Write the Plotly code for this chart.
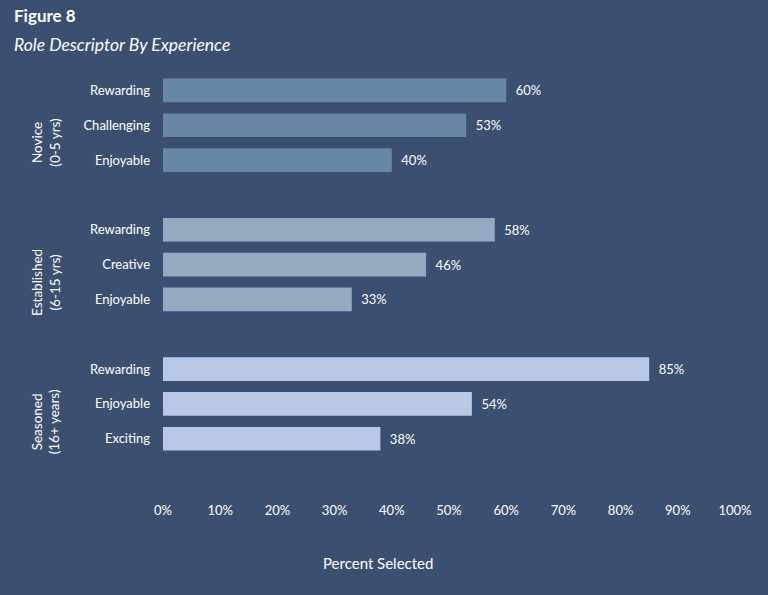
import plotly.graph_objects as go

groups = ["Novice<br>(0-5 yrs)", "Established<br>(6-15 yrs)", "Seasoned<br>(16+ years)"]
group_keys = ["novice", "established", "seasoned"]
descriptors = [
    ["Rewarding", "Challenging", "Enjoyable"],
    ["Rewarding", "Creative", "Enjoyable"],
    ["Rewarding", "Enjoyable", "Exciting"],
]
values = [
    [60, 53, 40],
    [58, 46, 33],
    [85, 54, 38],
]
colors = ["#6886a5", "#93abc1", "#b8c8e5"]
x_ticks = [0, 10, 20, 30, 40, 50, 60, 70, 80, 90, 100]

BG = "#3b5070"
FONT = "Lato"

fig = go.Figure()

cat_order = []
tickvals = []
ticktext = []
for g, key in enumerate(group_keys):
    keys = [f"{key}|{d}" for d in descriptors[g]]
    cat_order += keys + [f"{key}|gap"]
    tickvals += keys
    ticktext += descriptors[g]
    fig.add_trace(go.Bar(
        x=values[g], y=keys, orientation="h",
        marker=dict(color=colors[g], line=dict(width=0)),
        width=0.68,
        text=[f"\u2002{v}%" for v in values[g]],
        textposition="outside",
        textfont=dict(color="white", size=13, family=FONT),
        cliponaxis=False,
        showlegend=False, hoverinfo="skip",
    ))

# invisible trace to reserve the spacer slots
gap_keys = [c for c in cat_order if c.endswith("|gap")]
fig.add_trace(go.Bar(x=[0] * len(gap_keys), y=gap_keys, orientation="h",
                     marker=dict(color="rgba(0,0,0,0)", line=dict(width=0)),
                     showlegend=False, hoverinfo="skip"))

PLOT_H = 418
SLOT = PLOT_H / len(cat_order)

fig.update_layout(
    width=768, height=595,
    paper_bgcolor=BG, plot_bgcolor=BG,
    margin=dict(l=163, r=33, t=73, b=104),
    font=dict(family=FONT, color="white", size=13),
    bargap=0.32,
    xaxis=dict(
        range=[0, 100], tickvals=x_ticks, ticktext=[f"{t}%" for t in x_ticks],
        showgrid=False, zeroline=False, showline=False,
        tickfont=dict(size=13, color="white"), ticklabelstandoff=10,
        fixedrange=True,
    ),
    yaxis=dict(
        type="category", categoryorder="array", categoryarray=cat_order,
        autorange="reversed", tickvals=tickvals, ticktext=ticktext,
        showgrid=False, zeroline=False, showline=False,
        tickfont=dict(size=13, color="white"), ticklabelstandoff=12,
        fixedrange=True,
    ),
)

fig.add_annotation(text="<b>Figure 8</b>", xref="paper", yref="paper",
                   x=-163 / 572 + 12 / 572, y=1 + (73 - 15) / 418,
                   xanchor="left", yanchor="middle", showarrow=False,
                   font=dict(size=17, color="white", family=FONT))
fig.add_annotation(text="<i>Role Descriptor By Experience</i>", xref="paper", yref="paper",
                   x=-163 / 572 + 12 / 572, y=1 + (73 - 44) / 418,
                   xanchor="left", yanchor="middle", showarrow=False,
                   font=dict(size=17.5, color="white", family=FONT))
fig.add_annotation(text="Percent Selected", xref="paper", yref="paper",
                   x=(378 - 163) / 572, y=-(563 - 491) / 418,
                   xanchor="center", yanchor="middle", showarrow=False,
                   font=dict(size=15, color="white", family=FONT))

for g, key in enumerate(group_keys):
    fig.add_annotation(text=groups[g], xref="paper", yref="y",
                       x=-(163 - 46) / 572, y=f"{key}|{descriptors[g][1]}",
                       yshift=-SLOT / 2,
                       xanchor="center", yanchor="middle", showarrow=False,
                       textangle=-90,
                       font=dict(size=13.5, color="white", family=FONT))

fig.write_html("out.html",
               config={"displayModeBar": False},
               post_script="document.body.style.margin='0';"
                           "document.body.style.background='#3b5070';")
